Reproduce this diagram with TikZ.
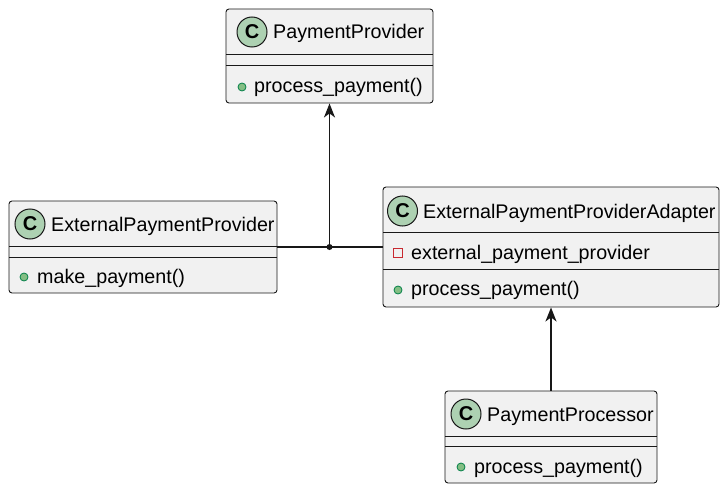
\documentclass[tikz,border=0pt]{standalone}
\usepackage{fontspec}
\setmainfont{Liberation Sans}
\usetikzlibrary{arrows.meta}

\begin{document}
\begin{tikzpicture}[x=1pt,y=1pt,yscale=-1,xscale=1,
  classbox/.style={draw={rgb, 255:red, 24; green, 24; blue, 24 }, fill={rgb, 255:red, 241; green, 241; blue, 241 }, line width=0.9, rounded corners=3, inner sep=0},
  classicon/.style={circle, draw={rgb, 255:red, 24; green, 24; blue, 24 }, fill={rgb, 255:red, 173; green, 209; blue, 178 }, line width=1, minimum size=30, inner sep=0, font=\fontsize{20}{20}\selectfont\bfseries},
  lbl/.style={inner sep=0, anchor=base west, text={rgb, 255:red, 0; green, 0; blue, 0 }, font=\fontsize{19.7}{23}\selectfont},
  pubdot/.style={circle, draw={rgb, 255:red, 3; green, 128; blue, 72 }, fill={rgb, 255:red, 132; green, 190; blue, 132 }, line width=0.8, minimum size=8, inner sep=0},
  privbox/.style={rectangle, draw={rgb, 255:red, 200; green, 41; blue, 48 }, line width=0.8, minimum size=9, inner sep=0},
  sep/.style={draw={rgb, 255:red, 24; green, 24; blue, 24 }, line width=0.9},
  link/.style={draw={rgb, 255:red, 24; green, 24; blue, 24 }, line width=1.5},
  assoc/.style={link, -{Stealth[length=14, width=11, inset=4]}},
  joindot/.style={circle, fill={rgb, 255:red, 24; green, 24; blue, 24 }, minimum size=6, inner sep=0}
]
\useasboundingbox (0,0) rectangle (727,492);

%PaymentProvider
\node [classbox, minimum width=207, minimum height=94] (pp) at (329.5,56) {};
\draw [sep] (226,54) -- (433,54) ;
\draw [sep] (226,65) -- (433,65) ;
\node [classicon] (ppicon) at (252,32) {C};
\node [lbl] (pptitle) at (273,39) {PaymentProvider};
\node [pubdot] (ppdot) at (242,87) {};
\node [lbl] (ppmethod) at (254,92.5) {process\_payment()};

%ExternalPaymentProvider
\node [classbox, minimum width=268, minimum height=92] (epp) at (143,247) {};
\draw [sep] (9,246) -- (277,246) ;
\draw [sep] (9,257) -- (277,257) ;
\node [classicon] (eppicon) at (30,224) {C};
\node [lbl] (epptitle) at (51,231) {ExternalPaymentProvider};
\node [pubdot] (eppdot) at (24,277) {};
\node [lbl] (eppmethod) at (37,283) {make\_payment()};

%ExternalPaymentProviderAdapter
\node [classbox, minimum width=336, minimum height=120] (adapter) at (551,247) {};
\draw [sep] (383,232) -- (719,232) ;
\draw [sep] (383,269) -- (719,269) ;
\node [classicon] (adaptericon) at (402.5,211) {C};
\node [lbl] (adaptertitle) at (423,218.5) {ExternalPaymentProviderAdapter};
\node [privbox] (adapterattrbox) at (397.5,252.5) {};
\node [lbl] (adapterattr) at (411,259) {external\_payment\_provider};
\node [pubdot] (adapterdot) at (398,290) {};
\node [lbl] (adaptermethod) at (411,295) {process\_payment()};

%PaymentProcessor
\node [classbox, minimum width=212, minimum height=92] (proc) at (551,437) {};
\draw [sep] (445,436) -- (657,436) ;
\draw [sep] (445,446) -- (657,446) ;
\node [classicon] (procicon) at (466,414) {C};
\node [lbl] (proctitle) at (487,421.5) {PaymentProcessor};
\node [pubdot] (procdot) at (461,467) {};
\node [lbl] (procmethod) at (474,473) {process\_payment()};

%Links
\draw [link] (epp.east) -- (adapter.west) ;
\node [joindot] (join) at (pp.south |- epp.east) {};
\draw [assoc] (join.center) -- (pp.south) ;
\draw [assoc] (proc.north) -- (proc.north |- adapter.south) ;

\end{tikzpicture}
\end{document}
